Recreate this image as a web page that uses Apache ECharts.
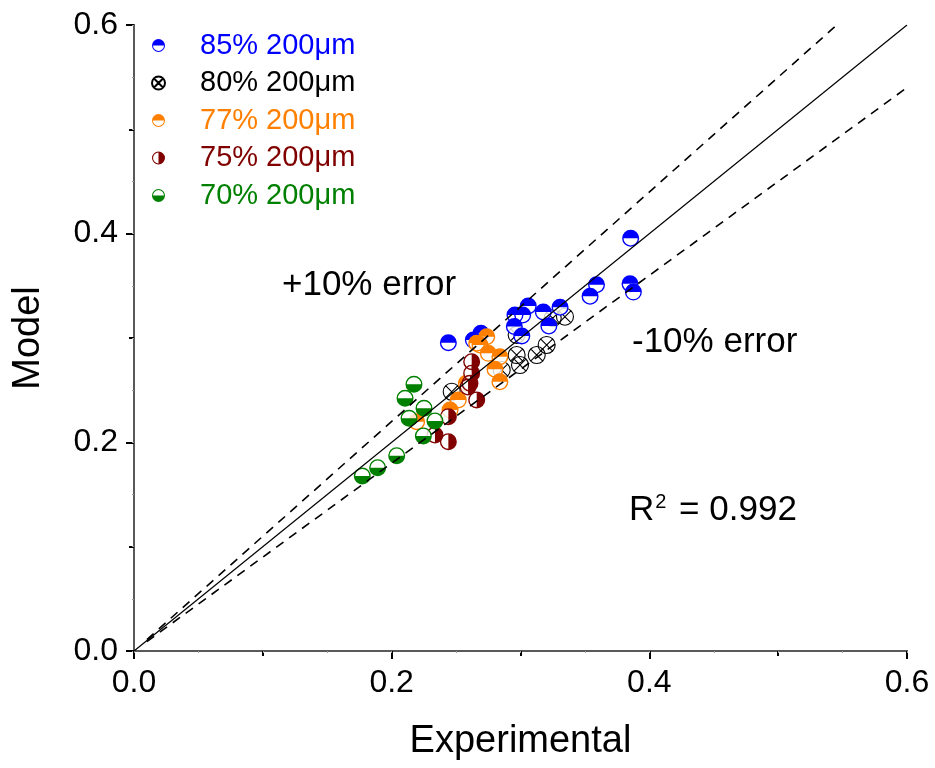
<!DOCTYPE html>
<html>
<head>
<meta charset="utf-8">
<script src="https://cdn.jsdelivr.net/npm/echarts@6/dist/echarts.min.js"></script>
<style>html,body{margin:0;padding:0;background:#fff}#c{width:935px;height:768px}</style>
</head>
<body>
<div id="c"></div>
<script>
// ---- data ----
const seriesNames = ['85% 200\u03bcm', '80% 200\u03bcm', '77% 200\u03bcm', '75% 200\u03bcm', '70% 200\u03bcm'];
const seriesColors = ['#0000ff', '#000000', '#ff8000', '#800000', '#008000'];
const p85 = [[0.244,0.2955],[0.2634,0.298],[0.2693,0.3045],[0.2952,0.311],[0.2957,0.322],[0.301,0.302],[0.3017,0.322],[0.306,0.3307],[0.3177,0.325],[0.322,0.3115],[0.3307,0.3294],[0.354,0.340],[0.359,0.351],[0.3855,0.3956],[0.385,0.352],[0.3876,0.344]];
const p80 = [[0.2466,0.2485],[0.2854,0.2693],[0.297,0.2837],[0.2996,0.2741],[0.3126,0.2837],[0.3203,0.2933],[0.3345,0.3204],[0.325,0.319],[0.297,0.303]];
const p77 = [[0.266,0.295],[0.2738,0.3013],[0.2686,0.2933],[0.275,0.2853],[0.284,0.282],[0.2802,0.27],[0.284,0.258],[0.258,0.2566],[0.2517,0.2406],[0.2453,0.231],[0.2194,0.2198]];
const p75 = [[0.2621,0.2773],[0.2621,0.2662],[0.2608,0.2566],[0.2593,0.253],[0.266,0.2406],[0.244,0.2246],[0.2336,0.207],[0.244,0.2006]];
const p70 = [[0.2173,0.2556],[0.2104,0.2422],[0.2251,0.2326],[0.2135,0.223],[0.2336,0.2205],[0.2246,0.2061],[0.2039,0.1872],[0.1891,0.1757],[0.1772,0.1677]];
const lineParity = [[0, 0], [0.6, 0.6]];
const linePlus10 = [[0.01, 0.011], [0.5455, 0.6]];
const lineMinus10 = [[0.01, 0.009], [0.6, 0.54]];
const tickLabels = ['0.0', '0.2', '0.4', '0.6'];

// ---- symbols ----
const OUT = 'M0 50A50 50 0 1 1 100 50A50 50 0 1 1 0 50Z';
const symTop = 'path://' + OUT + 'M8 50A42 42 0 0 0 92 50Z';
const symBottom = 'path://' + OUT + 'M92 50A42 42 0 0 0 8 50Z';
const symRight = 'path://' + OUT + 'M50 8A42 42 0 0 0 50 92Z';
const symX = 'path://' + OUT + 'M15.5 15.5L84.5 84.5M84.5 15.5L15.5 84.5';

const FONT = 'Liberation Sans, Arial, sans-serif';
const chart = echarts.init(document.getElementById('c'), null, {renderer: 'canvas'});

function bg(data) {
  return {type: 'scatter', name: '_bg', data: data, symbol: 'circle', symbolSize: 16,
    itemStyle: {color: '#fff', borderWidth: 0}, silent: true, xAxisIndex: 0, yAxisIndex: 0};
}
function pts(i, data, sym) {
  const s = {type: 'scatter', name: seriesNames[i], data: data, symbol: sym, symbolSize: 17,
    itemStyle: {color: seriesColors[i], borderWidth: 0, opacity: 1}, silent: true, xAxisIndex: 0, yAxisIndex: 0};
  if (sym === symX) s.itemStyle = {color: 'rgba(0,0,0,0)', borderColor: '#000', borderWidth: 1.1, opacity: 1};
  return s;
}
const lineStyleDash = {color: '#000', width: 1.6, type: [9, 7]};

const option = {
  animation: false,
  backgroundColor: '#fff',
  grid: {left: 134, right: 28, top: 25, bottom: 117, containLabel: false},
  legend: {
    orient: 'vertical', left: 151, top: 31, itemGap: 8.5, padding: 0,
    itemWidth: 13, itemHeight: 13,
    data: seriesNames.map((n, i) => ({name: n, textStyle: {color: seriesColors[i]}})),
    textStyle: {fontSize: 29, fontFamily: FONT, padding: [0, 0, 0, 30]},
    selectedMode: false
  },
  xAxis: [
    {type: 'value', min: 0, max: 0.6, interval: 0.2, position: 'bottom',
     axisLine: {lineStyle: {color: '#000', width: 2}},
     axisTick: {inside: false, length: 8, lineStyle: {color: '#000', width: 2}},
     minorTick: {show: true, splitNumber: 2, length: 5, lineStyle: {color: '#000', width: 2}},
     splitLine: {show: false},
     axisLabel: {formatter: v => tickLabels[Math.round(v / 0.2)], fontSize: 32, color: '#000', fontFamily: FONT, margin: 16},
     name: 'Experimental', nameLocation: 'middle', nameGap: 72,
     nameTextStyle: {fontSize: 38, color: '#000', fontFamily: FONT}},
    {type: 'value', min: 0, max: 0.6, interval: 0.05, position: 'top',
     axisLine: {lineStyle: {color: '#777', width: 1.5}},
     axisTick: {inside: true, length: 2, lineStyle: {color: '#999', width: 1}},
     splitLine: {show: false}, axisLabel: {show: false}}
  ],
  yAxis: [
    {type: 'value', min: 0, max: 0.6, interval: 0.2, position: 'left',
     axisLine: {lineStyle: {color: '#000', width: 2}},
     axisTick: {inside: false, length: 8, lineStyle: {color: '#000', width: 2}},
     minorTick: {show: true, splitNumber: 2, length: 5, lineStyle: {color: '#000', width: 2}},
     splitLine: {show: false},
     axisLabel: {formatter: v => tickLabels[Math.round(v / 0.2)], fontSize: 32, color: '#000', fontFamily: FONT, margin: 16},
     name: 'Model', nameLocation: 'middle', nameGap: 86,
     nameTextStyle: {fontSize: 38, color: '#000', fontFamily: FONT}},
    {type: 'value', min: 0, max: 0.6, interval: 0.05, position: 'right',
     axisLine: {lineStyle: {color: '#777', width: 1.5}},
     axisTick: {inside: true, length: 2, lineStyle: {color: '#999', width: 1}},
     splitLine: {show: false}, axisLabel: {show: false}}
  ],
  graphic: [
    {type: 'text', left: 282, top: 268, style: {text: '+10% error', font: '35px ' + FONT, fill: '#000'}},
    {type: 'text', left: 632, top: 325, style: {text: '-10% error', font: '35px ' + FONT, fill: '#000'}},
    {type: 'text', left: 629, top: 492, style: {
      text: 'R{s|2} = 0.992', font: '35px ' + FONT, fill: '#000',
      rich: {s: {fontSize: 20, fontFamily: FONT, verticalAlign: 'top', padding: [0, 3, 16, 1]}}}}
  ],
  series: [
    bg(p80), pts(1, p80, symX),
    bg(p85), pts(0, p85, symTop),
    bg(p77), pts(2, p77, symTop),
    bg(p75), pts(3, p75, symRight),
    bg(p70), pts(4, p70, symBottom),
    {type: 'line', name: '_l1', data: lineParity, symbol: 'none', lineStyle: {color: '#000', width: 1.2}, z: 5, silent: true},
    {type: 'line', name: '_l2', data: linePlus10, symbol: 'none', lineStyle: lineStyleDash, z: 5, silent: true},
    {type: 'line', name: '_l3', data: lineMinus10, symbol: 'none', lineStyle: lineStyleDash, z: 5, silent: true}
  ]
};
chart.setOption(option);
</script>
</body>
</html>
